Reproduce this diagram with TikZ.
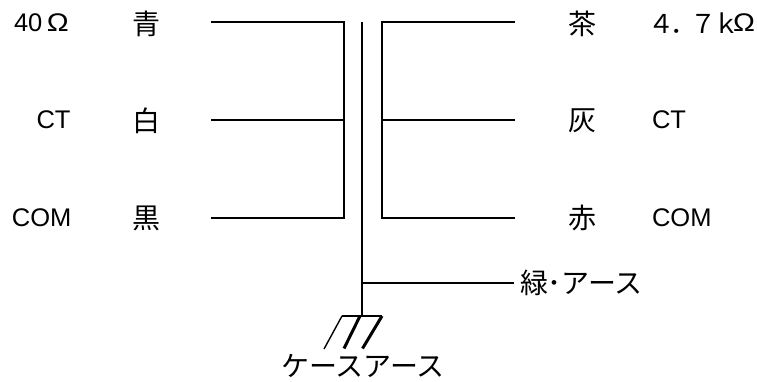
\documentclass[tikz,border=0pt]{standalone}
\usepackage{fontspec}
\setmainfont{Liberation Sans}
\newfontfamily\cjk{Noto Sans CJK JP}
\newcommand{\wideohm}{\scalebox{1.15}[1]{Ω}}
\tikzset{
  lab/.style={inner sep=0pt,outer sep=0pt,font=\fontsize{25.5}{26}\selectfont,text=black},
  cj/.style={inner sep=0pt,outer sep=0pt,font=\fontsize{28}{28}\selectfont\cjk,text=black},
  wire/.style={line width=2.4pt,black,line cap=butt,line join=miter},
  thinwire/.style={line width=1.4pt,black},
  heavywire/.style={line width=3pt,black},
}
\begin{document}
\begin{tikzpicture}[x=1pt,y=-1pt]
\useasboundingbox (0,0) rectangle (758,382);
\fill[white] (0,0) rectangle (758,382);
% left labels
\node[lab,anchor=west] (l1) at (14,23) {40\kern4.5pt \wideohm};
\node[lab,anchor=west] (l2) at (36.5,120) {CT};
\node[lab,anchor=west] (l3) at (12,218) {COM};
\node[cj] (lc1) at (146,24) {青};
\node[cj] (lc2) at (146,121) {白};
\node[cj] (lc3) at (146,218) {黒};
% right labels
\node[cj] (rc1) at (582,24) {茶};
\node[cj] (rc2) at (582,121) {灰};
\node[cj] (rc3) at (582,218) {赤};
\node[lab,anchor=west] (r1) at (648,23) {\fontsize{26}{26}\selectfont\cjk ４\kern-4pt ．\kern-6pt ７\kern-3pt ｋ\kern-2pt};
\node[lab,anchor=west] (r1b) at (733,23) {\wideohm};
\node[lab,anchor=west] (r2) at (652,120) {CT};
\node[lab,anchor=west] (r3) at (652,218) {COM};
\node[cj,anchor=west] (green) at (520,283) {緑\kern-0.5pt ･\kern0.5pt アース};
\node[cj] (case) at (363,366) {ケースアース};
% left winding
\coordinate (la) at (211,22);
\coordinate (lb) at (211,120);
\coordinate (lc) at (211,218);
\coordinate (lta) at (344,22);
\coordinate (ltb) at (344,120);
\coordinate (ltc) at (344,218);
\draw[wire] (la) -- (lta) -- (ltc) -- (lc);
\draw[wire] (lb) -- (ltb);
% right winding
\coordinate (ra) at (515,22);
\coordinate (rb) at (515,120);
\coordinate (rc) at (515,218);
\coordinate (rta) at (382,22);
\coordinate (rtb) at (382,120);
\coordinate (rtc) at (382,218);
\draw[wire] (ra) -- (rta) -- (rtc) -- (rc);
\draw[wire] (rb) -- (rtb);
% core
\coordinate (ctop) at (362,22);
\coordinate (cbot) at (362,316);
\coordinate (cg) at (362,283);
\coordinate (ge) at (514,283);
\draw[wire] (ctop) -- (cbot);
\draw[wire] (cg) -- (ge);
% ground
\coordinate (g1) at (342,316);
\coordinate (g2) at (360,316);
\coordinate (g3) at (382,316);
\coordinate (g1e) at (324,349);
\coordinate (g2e) at (344,348.5);
\coordinate (g3e) at (362.5,348.5);
\draw[wire] (g1) -- (g3);
\draw[thinwire] (g1) -- (g1e);
\draw[heavywire] (g2) -- (g2e);
\draw[heavywire] (g3) -- (g3e);
\end{tikzpicture}
\end{document}
